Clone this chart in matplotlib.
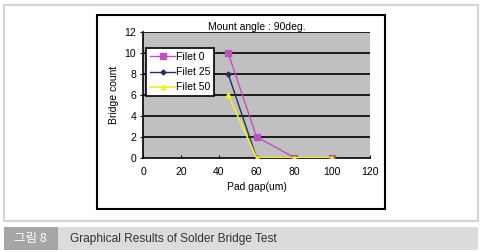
import matplotlib.pyplot as plt
from matplotlib.patches import Rectangle

plt.rcParams['font.family'] = ['Liberation Sans Narrow', 'Liberation Sans', 'DejaVu Sans']

# data
pad_gap = [45, 60, 80, 100]
filet_0 = [10, 2, 0, 0]
filet_25 = [8, 0, 0, 0]
filet_50 = [6, 0, 0, 0]
x_ticks = [0, 20, 40, 60, 80, 100, 120]
y_ticks = [0, 2, 4, 6, 8, 10, 12]

fig = plt.figure(figsize=(4.82, 2.52), dpi=100)

# outer light frame and chart frame
fig.patches.append(Rectangle((0.0083, 0.123), 0.9834, 0.857, transform=fig.transFigure,
                             fill=False, edgecolor='#d4d4d4', linewidth=1.5))
fig.patches.append(Rectangle((0.2012, 0.1706), 0.5976, 0.7699, transform=fig.transFigure,
                             fill=False, edgecolor='black', linewidth=1.5))

# caption bar
fig.patches.append(Rectangle((0.0083, 0.008), 0.112, 0.091, transform=fig.transFigure,
                             facecolor='#a6a6a6', edgecolor='none'))
fig.patches.append(Rectangle((0.1203, 0.008), 0.8714, 0.091, transform=fig.transFigure,
                             facecolor='#dcdcdc', edgecolor='none'))
fig.text(0.064, 0.053, '그림 8', color='white', fontsize=9, ha='center', va='center',
         family=['Noto Sans CJK KR', 'DejaVu Sans'])
fig.text(0.145, 0.053, 'Graphical Results of Solder Bridge Test', color='#333333',
         fontsize=8.6, ha='left', va='center', family=['Liberation Sans', 'DejaVu Sans'])

ax = fig.add_axes([0.2967, 0.3742, 0.4710, 0.499])
ax.set_facecolor('#c0c0c0')
for y in y_ticks[1:]:
    ax.axhline(y, color='black', linewidth=1.2, zorder=1)

ax.plot(pad_gap, filet_0, color='#c050c0', marker='s', markersize=4.5, linewidth=1,
        label='Filet 0', zorder=3)
ax.plot(pad_gap, filet_25, color='#2a2a6a', marker='D', markersize=2.5, linewidth=1,
        label='Filet 25', zorder=4)
ax.plot(pad_gap, filet_50, color='#f0f020', marker='^', markersize=3.5, linewidth=1.2,
        label='Filet 50', zorder=5)

ax.set_xlim(0, 120)
ax.set_ylim(0, 12)
ax.set_xticks(x_ticks)
ax.set_yticks(y_ticks)
ax.tick_params(axis='both', labelsize=7.5, length=2, width=0.8, colors='black')
ax.tick_params(axis='x', direction='in', pad=7)
ax.tick_params(axis='y', direction='out', pad=3)
for s in ['top', 'right']:
    ax.spines[s].set_visible(False)
for s in ['left', 'bottom']:
    ax.spines[s].set_linewidth(1.2)

ax.set_xlabel('Pad gap(um)', fontsize=7.5, labelpad=3)
ax.set_ylabel('Bridge count', fontsize=7.5, labelpad=4)
ax.set_title('Mount angle : 90deg.', fontsize=7.5, pad=1)

leg = ax.legend(loc='upper left', bbox_to_anchor=(0.015, 0.87), borderaxespad=0,
                fancybox=False, edgecolor='black', framealpha=1, fontsize=7.5,
                handlelength=2.4, handletextpad=0.1, labelspacing=0.5, borderpad=0.35)
leg.get_frame().set_linewidth(1.2)

fig.savefig('out.png', dpi=100)
